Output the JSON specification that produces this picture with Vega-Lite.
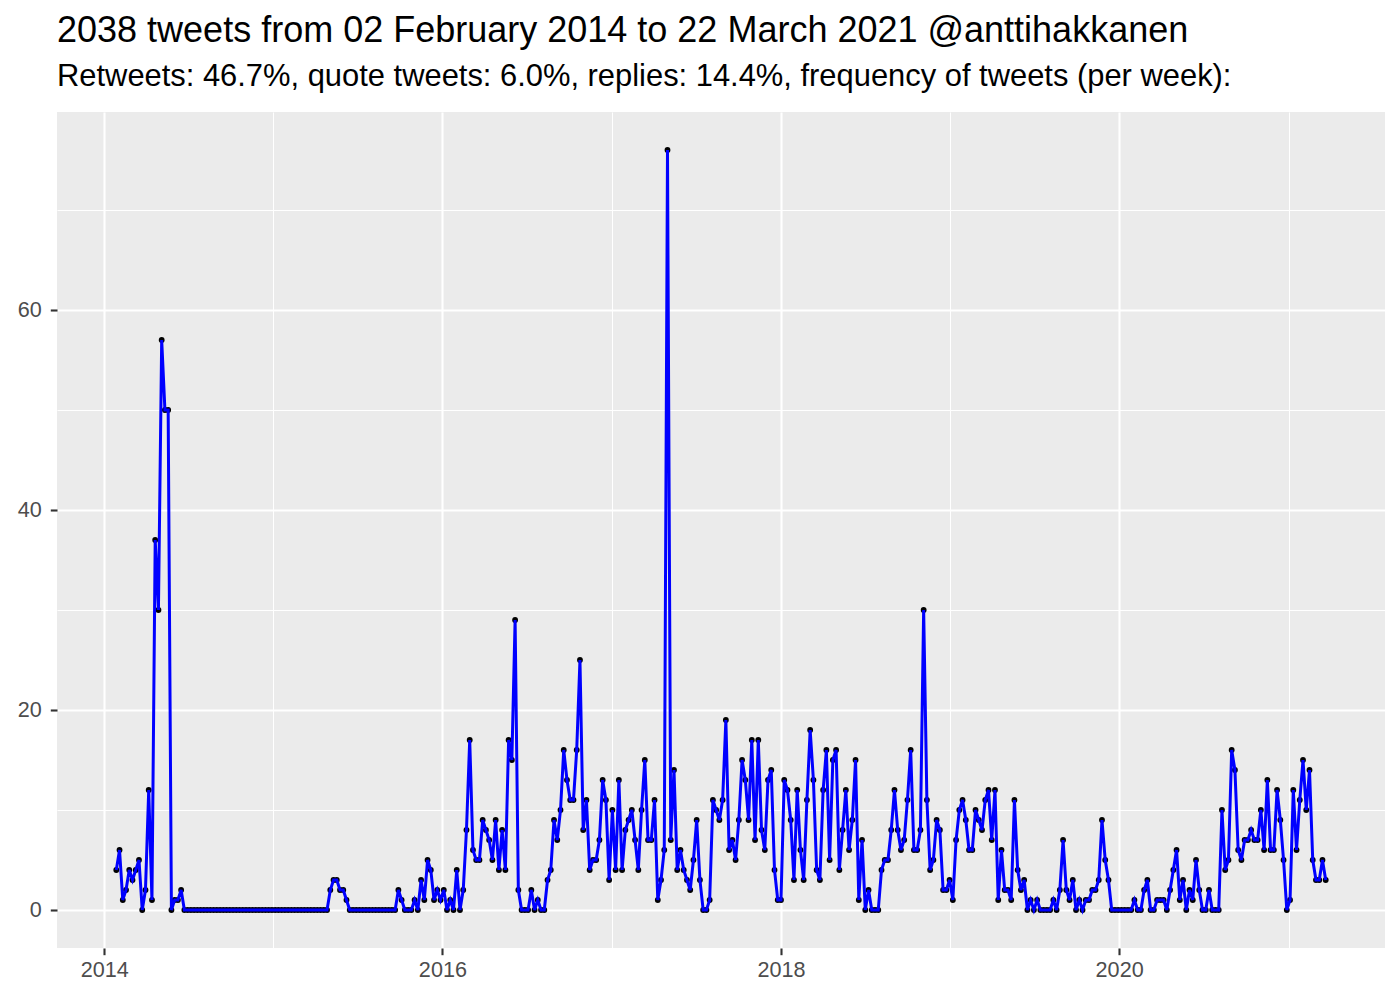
{
"$schema": "https://vega.github.io/schema/vega-lite/v6.json",
"width": 1328, "height": 836,
"autosize": {"type": "none"},
"padding": {"left": 57, "top": 112, "right": 15, "bottom": 52},
"background": "white",
"title": {"text": "2038 tweets from 02 February 2014 to 22 March 2021 @anttihakkanen", "subtitle": "Retweets: 46.7%, quote tweets: 6.0%, replies: 14.4%, frequency of tweets (per week):", "anchor": "start", "frame": "group", "font": "Liberation Sans", "fontSize": 36, "fontWeight": "normal", "color": "black", "subtitleFont": "Liberation Sans", "subtitleFontSize": 30.9, "subtitleColor": "black", "subtitlePadding": 12, "offset": 19},
"config": {"view": {"fill": "#EBEBEB", "stroke": null}},
"data": {"values": [
{"week":"2014-01-27","tweets":4},{"week":"2014-02-03","tweets":6},{"week":"2014-02-10","tweets":1},{"week":"2014-02-17","tweets":2},{"week":"2014-02-24","tweets":4},
{"week":"2014-03-03","tweets":3},{"week":"2014-03-10","tweets":4},{"week":"2014-03-17","tweets":5},{"week":"2014-03-24","tweets":0},{"week":"2014-03-31","tweets":2},
{"week":"2014-04-07","tweets":12},{"week":"2014-04-14","tweets":1},{"week":"2014-04-21","tweets":37},{"week":"2014-04-28","tweets":30},
{"week":"2014-05-05","tweets":57},{"week":"2014-05-12","tweets":50},{"week":"2014-05-19","tweets":50},{"week":"2014-05-26","tweets":0},
{"week":"2014-06-02","tweets":1},{"week":"2014-06-09","tweets":1},{"week":"2014-06-16","tweets":2},{"week":"2014-06-23","tweets":0},{"week":"2014-06-30","tweets":0},
{"week":"2014-07-07","tweets":0},{"week":"2014-07-14","tweets":0},{"week":"2014-07-21","tweets":0},{"week":"2014-07-28","tweets":0},
{"week":"2014-08-04","tweets":0},{"week":"2014-08-11","tweets":0},{"week":"2014-08-18","tweets":0},{"week":"2014-08-25","tweets":0},
{"week":"2014-09-01","tweets":0},{"week":"2014-09-08","tweets":0},{"week":"2014-09-15","tweets":0},{"week":"2014-09-22","tweets":0},{"week":"2014-09-29","tweets":0},
{"week":"2014-10-06","tweets":0},{"week":"2014-10-13","tweets":0},{"week":"2014-10-20","tweets":0},{"week":"2014-10-27","tweets":0},
{"week":"2014-11-03","tweets":0},{"week":"2014-11-10","tweets":0},{"week":"2014-11-17","tweets":0},{"week":"2014-11-24","tweets":0},
{"week":"2014-12-01","tweets":0},{"week":"2014-12-08","tweets":0},{"week":"2014-12-15","tweets":0},{"week":"2014-12-22","tweets":0},{"week":"2014-12-29","tweets":0},
{"week":"2015-01-05","tweets":0},{"week":"2015-01-12","tweets":0},{"week":"2015-01-19","tweets":0},{"week":"2015-01-26","tweets":0},
{"week":"2015-02-02","tweets":0},{"week":"2015-02-09","tweets":0},{"week":"2015-02-16","tweets":0},{"week":"2015-02-23","tweets":0},
{"week":"2015-03-02","tweets":0},{"week":"2015-03-09","tweets":0},{"week":"2015-03-16","tweets":0},{"week":"2015-03-23","tweets":0},{"week":"2015-03-30","tweets":0},
{"week":"2015-04-06","tweets":0},{"week":"2015-04-13","tweets":0},{"week":"2015-04-20","tweets":0},{"week":"2015-04-27","tweets":0},
{"week":"2015-05-04","tweets":2},{"week":"2015-05-11","tweets":3},{"week":"2015-05-18","tweets":3},{"week":"2015-05-25","tweets":2},
{"week":"2015-06-01","tweets":2},{"week":"2015-06-08","tweets":1},{"week":"2015-06-15","tweets":0},{"week":"2015-06-22","tweets":0},{"week":"2015-06-29","tweets":0},
{"week":"2015-07-06","tweets":0},{"week":"2015-07-13","tweets":0},{"week":"2015-07-20","tweets":0},{"week":"2015-07-27","tweets":0},
{"week":"2015-08-03","tweets":0},{"week":"2015-08-10","tweets":0},{"week":"2015-08-17","tweets":0},{"week":"2015-08-24","tweets":0},{"week":"2015-08-31","tweets":0},
{"week":"2015-09-07","tweets":0},{"week":"2015-09-14","tweets":0},{"week":"2015-09-21","tweets":0},{"week":"2015-09-28","tweets":2},
{"week":"2015-10-05","tweets":1},{"week":"2015-10-12","tweets":0},{"week":"2015-10-19","tweets":0},{"week":"2015-10-26","tweets":0},
{"week":"2015-11-02","tweets":1},{"week":"2015-11-09","tweets":0},{"week":"2015-11-16","tweets":3},{"week":"2015-11-23","tweets":1},{"week":"2015-11-30","tweets":5},
{"week":"2015-12-07","tweets":4},{"week":"2015-12-14","tweets":1},{"week":"2015-12-21","tweets":2},{"week":"2015-12-28","tweets":1},
{"week":"2016-01-04","tweets":2},{"week":"2016-01-11","tweets":0},{"week":"2016-01-18","tweets":1},{"week":"2016-01-25","tweets":0},
{"week":"2016-02-01","tweets":4},{"week":"2016-02-08","tweets":0},{"week":"2016-02-15","tweets":2},{"week":"2016-02-22","tweets":8},{"week":"2016-02-29","tweets":17},
{"week":"2016-03-07","tweets":6},{"week":"2016-03-14","tweets":5},{"week":"2016-03-21","tweets":5},{"week":"2016-03-28","tweets":9},
{"week":"2016-04-04","tweets":8},{"week":"2016-04-11","tweets":7},{"week":"2016-04-18","tweets":5},{"week":"2016-04-25","tweets":9},
{"week":"2016-05-02","tweets":4},{"week":"2016-05-09","tweets":8},{"week":"2016-05-16","tweets":4},{"week":"2016-05-23","tweets":17},{"week":"2016-05-30","tweets":15},
{"week":"2016-06-06","tweets":29},{"week":"2016-06-13","tweets":2},{"week":"2016-06-20","tweets":0},{"week":"2016-06-27","tweets":0},
{"week":"2016-07-04","tweets":0},{"week":"2016-07-11","tweets":2},{"week":"2016-07-18","tweets":0},{"week":"2016-07-25","tweets":1},
{"week":"2016-08-01","tweets":0},{"week":"2016-08-08","tweets":0},{"week":"2016-08-15","tweets":3},{"week":"2016-08-22","tweets":4},{"week":"2016-08-29","tweets":9},
{"week":"2016-09-05","tweets":7},{"week":"2016-09-12","tweets":10},{"week":"2016-09-19","tweets":16},{"week":"2016-09-26","tweets":13},
{"week":"2016-10-03","tweets":11},{"week":"2016-10-10","tweets":11},{"week":"2016-10-17","tweets":16},{"week":"2016-10-24","tweets":25},{"week":"2016-10-31","tweets":8},
{"week":"2016-11-07","tweets":11},{"week":"2016-11-14","tweets":4},{"week":"2016-11-21","tweets":5},{"week":"2016-11-28","tweets":5},
{"week":"2016-12-05","tweets":7},{"week":"2016-12-12","tweets":13},{"week":"2016-12-19","tweets":11},{"week":"2016-12-26","tweets":3},
{"week":"2017-01-02","tweets":10},{"week":"2017-01-09","tweets":4},{"week":"2017-01-16","tweets":13},{"week":"2017-01-23","tweets":4},{"week":"2017-01-30","tweets":8},
{"week":"2017-02-06","tweets":9},{"week":"2017-02-13","tweets":10},{"week":"2017-02-20","tweets":7},{"week":"2017-02-27","tweets":4},
{"week":"2017-03-06","tweets":10},{"week":"2017-03-13","tweets":15},{"week":"2017-03-20","tweets":7},{"week":"2017-03-27","tweets":7},
{"week":"2017-04-03","tweets":11},{"week":"2017-04-10","tweets":1},{"week":"2017-04-17","tweets":3},{"week":"2017-04-24","tweets":6},
{"week":"2017-05-01","tweets":76},{"week":"2017-05-08","tweets":7},{"week":"2017-05-15","tweets":14},{"week":"2017-05-22","tweets":4},{"week":"2017-05-29","tweets":6},
{"week":"2017-06-05","tweets":4},{"week":"2017-06-12","tweets":3},{"week":"2017-06-19","tweets":2},{"week":"2017-06-26","tweets":5},
{"week":"2017-07-03","tweets":9},{"week":"2017-07-10","tweets":3},{"week":"2017-07-17","tweets":0},{"week":"2017-07-24","tweets":0},{"week":"2017-07-31","tweets":1},
{"week":"2017-08-07","tweets":11},{"week":"2017-08-14","tweets":10},{"week":"2017-08-21","tweets":9},{"week":"2017-08-28","tweets":11},
{"week":"2017-09-04","tweets":19},{"week":"2017-09-11","tweets":6},{"week":"2017-09-18","tweets":7},{"week":"2017-09-25","tweets":5},
{"week":"2017-10-02","tweets":9},{"week":"2017-10-09","tweets":15},{"week":"2017-10-16","tweets":13},{"week":"2017-10-23","tweets":9},{"week":"2017-10-30","tweets":17},
{"week":"2017-11-06","tweets":7},{"week":"2017-11-13","tweets":17},{"week":"2017-11-20","tweets":8},{"week":"2017-11-27","tweets":6},
{"week":"2017-12-04","tweets":13},{"week":"2017-12-11","tweets":14},{"week":"2017-12-18","tweets":4},{"week":"2017-12-25","tweets":1},
{"week":"2018-01-01","tweets":1},{"week":"2018-01-08","tweets":13},{"week":"2018-01-15","tweets":12},{"week":"2018-01-22","tweets":9},{"week":"2018-01-29","tweets":3},
{"week":"2018-02-05","tweets":12},{"week":"2018-02-12","tweets":6},{"week":"2018-02-19","tweets":3},{"week":"2018-02-26","tweets":11},
{"week":"2018-03-05","tweets":18},{"week":"2018-03-12","tweets":13},{"week":"2018-03-19","tweets":4},{"week":"2018-03-26","tweets":3},
{"week":"2018-04-02","tweets":12},{"week":"2018-04-09","tweets":16},{"week":"2018-04-16","tweets":5},{"week":"2018-04-23","tweets":15},{"week":"2018-04-30","tweets":16},
{"week":"2018-05-07","tweets":4},{"week":"2018-05-14","tweets":8},{"week":"2018-05-21","tweets":12},{"week":"2018-05-28","tweets":6},
{"week":"2018-06-04","tweets":9},{"week":"2018-06-11","tweets":15},{"week":"2018-06-18","tweets":1},{"week":"2018-06-25","tweets":7},
{"week":"2018-07-02","tweets":0},{"week":"2018-07-09","tweets":2},{"week":"2018-07-16","tweets":0},{"week":"2018-07-23","tweets":0},{"week":"2018-07-30","tweets":0},
{"week":"2018-08-06","tweets":4},{"week":"2018-08-13","tweets":5},{"week":"2018-08-20","tweets":5},{"week":"2018-08-27","tweets":8},
{"week":"2018-09-03","tweets":12},{"week":"2018-09-10","tweets":8},{"week":"2018-09-17","tweets":6},{"week":"2018-09-24","tweets":7},
{"week":"2018-10-01","tweets":11},{"week":"2018-10-08","tweets":16},{"week":"2018-10-15","tweets":6},{"week":"2018-10-22","tweets":6},{"week":"2018-10-29","tweets":8},
{"week":"2018-11-05","tweets":30},{"week":"2018-11-12","tweets":11},{"week":"2018-11-19","tweets":4},{"week":"2018-11-26","tweets":5},
{"week":"2018-12-03","tweets":9},{"week":"2018-12-10","tweets":8},{"week":"2018-12-17","tweets":2},{"week":"2018-12-24","tweets":2},{"week":"2018-12-31","tweets":3},
{"week":"2019-01-07","tweets":1},{"week":"2019-01-14","tweets":7},{"week":"2019-01-21","tweets":10},{"week":"2019-01-28","tweets":11},
{"week":"2019-02-04","tweets":9},{"week":"2019-02-11","tweets":6},{"week":"2019-02-18","tweets":6},{"week":"2019-02-25","tweets":10},
{"week":"2019-03-04","tweets":9},{"week":"2019-03-11","tweets":8},{"week":"2019-03-18","tweets":11},{"week":"2019-03-25","tweets":12},
{"week":"2019-04-01","tweets":7},{"week":"2019-04-08","tweets":12},{"week":"2019-04-15","tweets":1},{"week":"2019-04-22","tweets":6},{"week":"2019-04-29","tweets":2},
{"week":"2019-05-06","tweets":2},{"week":"2019-05-13","tweets":1},{"week":"2019-05-20","tweets":11},{"week":"2019-05-27","tweets":4},
{"week":"2019-06-03","tweets":2},{"week":"2019-06-10","tweets":3},{"week":"2019-06-17","tweets":0},{"week":"2019-06-24","tweets":1},
{"week":"2019-07-01","tweets":0},{"week":"2019-07-08","tweets":1},{"week":"2019-07-15","tweets":0},{"week":"2019-07-22","tweets":0},{"week":"2019-07-29","tweets":0},
{"week":"2019-08-05","tweets":0},{"week":"2019-08-12","tweets":1},{"week":"2019-08-19","tweets":0},{"week":"2019-08-26","tweets":2},
{"week":"2019-09-02","tweets":7},{"week":"2019-09-09","tweets":2},{"week":"2019-09-16","tweets":1},{"week":"2019-09-23","tweets":3},{"week":"2019-09-30","tweets":0},
{"week":"2019-10-07","tweets":1},{"week":"2019-10-14","tweets":0},{"week":"2019-10-21","tweets":1},{"week":"2019-10-28","tweets":1},
{"week":"2019-11-04","tweets":2},{"week":"2019-11-11","tweets":2},{"week":"2019-11-18","tweets":3},{"week":"2019-11-25","tweets":9},
{"week":"2019-12-02","tweets":5},{"week":"2019-12-09","tweets":3},{"week":"2019-12-16","tweets":0},{"week":"2019-12-23","tweets":0},{"week":"2019-12-30","tweets":0},
{"week":"2020-01-06","tweets":0},{"week":"2020-01-13","tweets":0},{"week":"2020-01-20","tweets":0},{"week":"2020-01-27","tweets":0},
{"week":"2020-02-03","tweets":1},{"week":"2020-02-10","tweets":0},{"week":"2020-02-17","tweets":0},{"week":"2020-02-24","tweets":2},
{"week":"2020-03-02","tweets":3},{"week":"2020-03-09","tweets":0},{"week":"2020-03-16","tweets":0},{"week":"2020-03-23","tweets":1},{"week":"2020-03-30","tweets":1},
{"week":"2020-04-06","tweets":1},{"week":"2020-04-13","tweets":0},{"week":"2020-04-20","tweets":2},{"week":"2020-04-27","tweets":4},
{"week":"2020-05-04","tweets":6},{"week":"2020-05-11","tweets":1},{"week":"2020-05-18","tweets":3},{"week":"2020-05-25","tweets":0},
{"week":"2020-06-01","tweets":2},{"week":"2020-06-08","tweets":1},{"week":"2020-06-15","tweets":5},{"week":"2020-06-22","tweets":2},{"week":"2020-06-29","tweets":0},
{"week":"2020-07-06","tweets":0},{"week":"2020-07-13","tweets":2},{"week":"2020-07-20","tweets":0},{"week":"2020-07-27","tweets":0},
{"week":"2020-08-03","tweets":0},{"week":"2020-08-10","tweets":10},{"week":"2020-08-17","tweets":4},{"week":"2020-08-24","tweets":5},{"week":"2020-08-31","tweets":16},
{"week":"2020-09-07","tweets":14},{"week":"2020-09-14","tweets":6},{"week":"2020-09-21","tweets":5},{"week":"2020-09-28","tweets":7},
{"week":"2020-10-05","tweets":7},{"week":"2020-10-12","tweets":8},{"week":"2020-10-19","tweets":7},{"week":"2020-10-26","tweets":7},
{"week":"2020-11-02","tweets":10},{"week":"2020-11-09","tweets":6},{"week":"2020-11-16","tweets":13},{"week":"2020-11-23","tweets":6},{"week":"2020-11-30","tweets":6},
{"week":"2020-12-07","tweets":12},{"week":"2020-12-14","tweets":9},{"week":"2020-12-21","tweets":5},{"week":"2020-12-28","tweets":0},
{"week":"2021-01-04","tweets":1},{"week":"2021-01-11","tweets":12},{"week":"2021-01-18","tweets":6},{"week":"2021-01-25","tweets":11},
{"week":"2021-02-01","tweets":15},{"week":"2021-02-08","tweets":10},{"week":"2021-02-15","tweets":14},{"week":"2021-02-22","tweets":5},
{"week":"2021-03-01","tweets":3},{"week":"2021-03-08","tweets":3},{"week":"2021-03-15","tweets":5},{"week":"2021-03-22","tweets":3}
]},
"encoding": {
  "x": {"field": "week", "type": "temporal",
    "scale": {"type": "utc", "nice": false, "domain": [{"year": 2013, "month": 9, "date": 21, "utc": true}, {"year": 2021, "month": 7, "date": 28, "utc": true}]},
    "axis": {"title": null, "domain": false,
      "values": [{"year": 2014, "month": 1, "date": 1, "utc": true}, {"year": 2015, "month": 1, "date": 1, "utc": true}, {"year": 2016, "month": 1, "date": 1, "utc": true}, {"year": 2017, "month": 1, "date": 1, "utc": true}, {"year": 2018, "month": 1, "date": 1, "utc": true}, {"year": 2019, "month": 1, "date": 1, "utc": true}, {"year": 2020, "month": 1, "date": 1, "utc": true}, {"year": 2021, "month": 1, "date": 1, "utc": true}],
      "labelExpr": "utcyear(datum.value) % 2 === 0 ? utcFormat(datum.value, '%Y') : ''",
      "grid": true, "gridColor": "white",
      "gridWidth": {"condition": {"test": "utcyear(datum.value) % 2 === 0", "value": 2.1}, "value": 1.05},
      "ticks": true, "tickColor": "#333333", "tickSize": 6.7, "tickWidth": 2.1,
      "tickOpacity": {"condition": {"test": "utcyear(datum.value) % 2 === 0", "value": 1}, "value": 0},
      "labelFont": "Liberation Sans", "labelFontSize": 21.6, "labelColor": "#4D4D4D", "labelPadding": 5, "labelFlush": false, "labelOverlap": false}},
  "y": {"field": "tweets", "type": "quantitative",
    "scale": {"domain": [-3.8, 79.8], "nice": false, "zero": false},
    "axis": {"title": null, "domain": false,
      "values": [0, 10, 20, 30, 40, 50, 60, 70],
      "labelExpr": "datum.value % 20 === 0 ? datum.label : ''",
      "grid": true, "gridColor": "white",
      "gridWidth": {"condition": {"test": "datum.value % 20 === 0", "value": 2.1}, "value": 1.05},
      "ticks": true, "tickColor": "#333333", "tickSize": 6.7, "tickWidth": 2.1,
      "tickOpacity": {"condition": {"test": "datum.value % 20 === 0", "value": 1}, "value": 0},
      "labelFont": "Liberation Sans", "labelFontSize": 21.6, "labelColor": "#4D4D4D", "labelPadding": 9, "labelOverlap": false}}
},
"layer": [
  {"mark": {"type": "point", "filled": true, "color": "black", "opacity": 1, "size": 34}},
  {"mark": {"type": "line", "color": "#0000FF", "strokeWidth": 3}}
]
}
